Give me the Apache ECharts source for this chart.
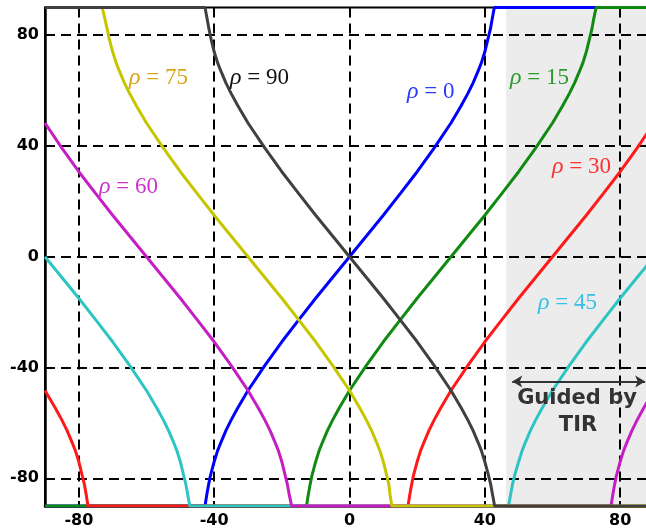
<!DOCTYPE html>
<html>
<head>
<meta charset="utf-8">
<script src="https://cdn.jsdelivr.net/npm/echarts@6/dist/echarts.min.js"></script>
<style>
  html, body { margin: 0; padding: 0; background: #fff; }
  #chart { width: 646px; height: 531px; }
</style>
</head>
<body>
<div id="chart"></div>
<script>
// Tick positions shared by both axes
var xTicks = [-80, -40, 0, 40, 80];
var yTicks = [-80, -40, 0, 40, 80];

// Output angle versus input angle for each rotation ρ (degrees), clamped at ±90
var rho0 = [[-90,-90],[-42.7,-90],[-42.2,-86],[-41.6,-82],[-41.1,-79],[-40,-74],[-39,-70.1],[-38,-67],[-36.5,-62.7],[-35,-59],[-33,-54.5],[-30,-48.3],[-25,-39.2],[-20,-30.7],[-15,-22.8],[-10,-15],[-5,-7.5],[0,0],[5,7.5],[10,15],[15,22.8],[20,30.7],[25,39.2],[30,48.3],[33,54.5],[35,59],[36.5,62.7],[38,67],[39,70.1],[40,74],[41,79],[41.6,82],[42.2,86],[42.8,90],[90,90]];
var rho15 = [[-90,-90],[-12.7,-90],[-12.2,-86],[-11.6,-82],[-11.1,-79],[-10,-74],[-9,-70.1],[-8,-67],[-6.5,-62.7],[-5,-59],[-3,-54.5],[0,-48.3],[5,-39.2],[10,-30.7],[15,-22.8],[20,-15],[25,-7.5],[30,0],[35,7.5],[40,15],[45,22.8],[50,30.7],[55,39.2],[60,48.3],[63,54.5],[65,59],[66.5,62.7],[68,67],[69,70.1],[70,74],[71,79],[71.6,82],[72.2,86],[72.9,90],[90,90]];
var rho30 = [[-90,-48.3],[-87,-54.5],[-85,-59],[-83.5,-62.7],[-82,-67],[-81,-70.1],[-80,-74],[-79,-79],[-78.4,-82],[-77.8,-86],[-77.3,-90],[17.3,-90],[17.8,-86],[18.4,-82],[18.9,-79],[20,-74],[21,-70.1],[22,-67],[23.5,-62.7],[25,-59],[27,-54.5],[30,-48.3],[35,-39.2],[40,-30.7],[45,-22.8],[50,-15],[55,-7.5],[60,0],[65,7.5],[70,15],[75,22.8],[80,30.7],[85,39.2],[90,48.3]];
var rho45 = [[-90,0],[-85,-7.5],[-80,-15],[-75,-22.8],[-70,-30.7],[-65,-39.2],[-60,-48.3],[-57,-54.5],[-55,-59],[-53.5,-62.7],[-52,-67],[-51,-70.1],[-50,-74],[-49,-79],[-48.4,-82],[-47.8,-86],[-47.2,-90],[47,-90],[47.6,-86],[48.2,-82],[48.8,-79],[50,-74],[51,-70.1],[52,-67],[53.5,-62.7],[55,-59],[57,-54.5],[60,-48.3],[65,-39.2],[70,-30.7],[75,-22.8],[80,-15],[85,-7.5],[90,0]];
var rho60 = [[-90,48.3],[-85,39.2],[-80,30.7],[-75,22.8],[-70,15],[-65,7.5],[-60,0],[-55,-7.5],[-50,-15],[-45,-22.8],[-40,-30.7],[-35,-39.2],[-30,-48.3],[-27,-54.5],[-25,-59],[-23.5,-62.7],[-22,-67],[-21,-70.1],[-20,-74],[-19,-79],[-18.4,-82],[-17.8,-86],[-17.1,-90],[77.3,-90],[77.8,-86],[78.4,-82],[78.9,-79],[80,-74],[81,-70.1],[82,-67],[83.5,-62.7],[85,-59],[87,-54.5],[90,-48.3]];
var rho75 = [[-90,90],[-73.1,90],[-72.3,86],[-71.6,82],[-71.1,79],[-70,74],[-69,70.1],[-68,67],[-66.5,62.7],[-65,59],[-63,54.5],[-60,48.3],[-55,39.2],[-50,30.7],[-45,22.8],[-40,15],[-35,7.5],[-30,0],[-25,-7.5],[-20,-15],[-15,-22.8],[-10,-30.7],[-5,-39.2],[0,-48.3],[3,-54.5],[5,-59],[6.5,-62.7],[8,-67],[9,-70.1],[10,-74],[11,-79],[11.6,-82],[12,-86],[12.5,-90],[90,-90]];
var rho90 = [[-90,90],[-42.7,90],[-42.1,86],[-41.5,82],[-41,79],[-40,74],[-39,70.1],[-38,67],[-36.5,62.7],[-35,59],[-33,54.5],[-30,48.3],[-25,39.2],[-20,30.7],[-15,22.8],[-10,15],[-5,7.5],[0,0],[5,-7.5],[10,-15],[15,-22.8],[20,-30.7],[25,-39.2],[30,-48.3],[33,-54.5],[35,-59],[36.5,-62.7],[38,-67],[39,-70.1],[40,-74],[41.1,-79],[41.7,-82],[42.3,-86],[42.9,-90],[90,-90]];

// Range of input angles guided by total internal reflection
var tirRange = [46.3, 90];
var tirArrow = [[48.1, -45], [87.4, -45]];

var curves = [
  { name: 'ρ=0',  data: rho0,  color: '#0000ff' },
  { name: 'ρ=15', data: rho15, color: '#118a11' },
  { name: 'ρ=30', data: rho30, color: '#ff1a1a' },
  { name: 'ρ=45', data: rho45, color: '#2ec4c4' },
  { name: 'ρ=60', data: rho60, color: '#c41ec4' },
  { name: 'ρ=75', data: rho75, color: '#c6c600' },
  { name: 'ρ=90', data: rho90, color: '#404040' }
];

// Curve captions: value, colour, left edge, vertical centre (px)
var captions = [
  { v: '75', c: '#d9a514', x: 129, y: 78 },
  { v: '90', c: '#111111', x: 230, y: 78 },
  { v: '0',  c: '#2a3cff', x: 407, y: 92 },
  { v: '15', c: '#2e9a2e', x: 510, y: 78 },
  { v: '30', c: '#ff3030', x: 552, y: 167 },
  { v: '45', c: '#36c0e6', x: 538, y: 303 },
  { v: '60', c: '#cc33cc', x: 99,  y: 187 }
];

var chart = echarts.init(document.getElementById('chart'), null, { renderer: 'canvas' });

var gridDash = { color: '#000', width: 2, type: [10, 6] };
var labelFont = { color: '#000', fontFamily: 'DejaVu Sans', fontWeight: 'bold', fontSize: 16 };

var series = curves.map(function (c) {
  return {
    name: c.name,
    type: 'line',
    data: c.data,
    showSymbol: false,
    symbol: 'none',
    animation: false,
    z: 3,
    lineStyle: { color: c.color, width: 3 },
    itemStyle: { color: c.color }
  };
});

series.unshift({
  name: 'TIR',
  type: 'line',
  data: [],
  animation: false,
  markArea: {
    silent: true,
    z: 0.5,
    itemStyle: { color: '#ececec' },
    data: [[{ xAxis: tirRange[0] }, { xAxis: tirRange[1] }]]
  },
  markLine: {
    silent: true,
    z: 5,
    symbol: ['arrow', 'arrow'],
    symbolSize: [9, 10],
    label: { show: false },
    lineStyle: { color: '#333', width: 2, type: 'solid' },
    data: [[{ coord: tirArrow[0] }, { coord: tirArrow[1] }]]
  }
});

var graphics = captions.map(function (c) {
  return {
    type: 'text',
    left: c.x,
    top: c.y - 12,
    z: 10,
    style: {
      text: '{i|ρ}{n| = ' + c.v + '}',
      rich: {
        i: { fontFamily: 'Liberation Serif', fontStyle: 'italic', fontSize: 24, fill: c.c, color: c.c },
        n: { fontFamily: 'Liberation Serif', fontSize: 23, fill: c.c, color: c.c }
      },
      fill: c.c
    }
  };
});

graphics.push({
  type: 'text',
  z: 10,
  style: {
    x: 577, y: 399,
    text: 'Guided by',
    font: 'bold 21px "DejaVu Sans"',
    fill: '#333',
    align: 'center',
    verticalAlign: 'middle'
  }
});
graphics.push({
  type: 'text',
  z: 10,
  style: {
    x: 578, y: 426,
    text: 'TIR',
    font: 'bold 21px "DejaVu Sans"',
    fill: '#333',
    align: 'center',
    verticalAlign: 'middle'
  }
});

chart.setOption({
  animation: false,
  backgroundColor: '#ffffff',
  grid: {
    left: 45, top: 7.5, width: 609, height: 498.5,
    outerBoundsMode: 'none',
    containLabel: false,
    show: true, borderColor: '#000', borderWidth: 2, backgroundColor: 'transparent', z: 1
  },
  xAxis: {
    type: 'value', min: -90, max: 90, z: 1,
    axisLine: { show: true, onZero: false, lineStyle: { color: '#000', width: 2.5 } },
    axisTick: { show: true, inside: true, length: 5, customValues: xTicks, lineStyle: { color: '#000', width: 2 } },
    axisLabel: Object.assign({ customValues: xTicks, margin: 7 }, labelFont),
    splitLine: { show: true, lineStyle: gridDash }
  },
  yAxis: {
    type: 'value', min: -90, max: 90, z: 1,
    axisLine: { show: true, onZero: false, lineStyle: { color: '#000', width: 2.5 } },
    axisTick: { show: true, inside: true, length: 5, customValues: yTicks, lineStyle: { color: '#000', width: 2 } },
    axisLabel: Object.assign({ customValues: yTicks, margin: 6 }, labelFont),
    splitLine: { show: true, lineStyle: gridDash }
  },
  series: series,
  graphic: graphics
});
</script>
</body>
</html>
